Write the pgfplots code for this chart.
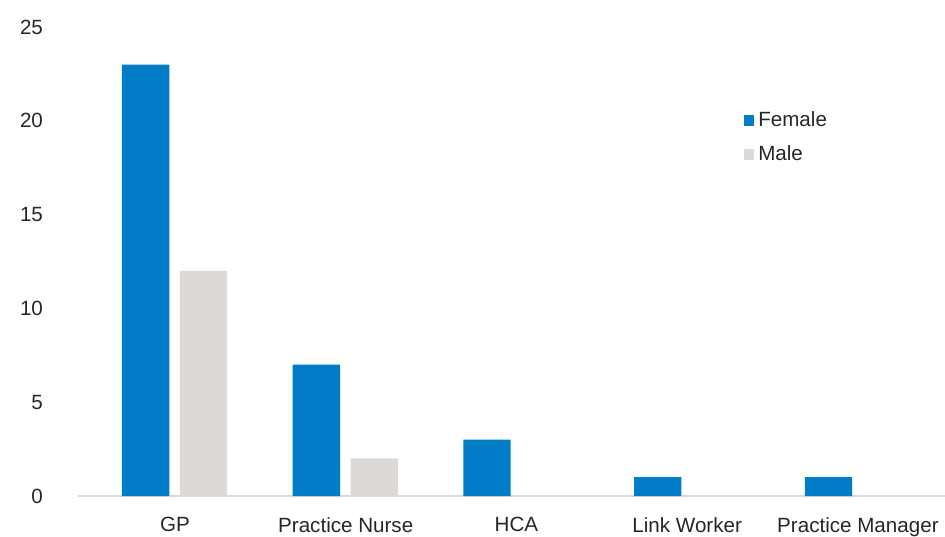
\documentclass[border=0pt]{standalone}
\usepackage{pgfplots}
\pgfplotsset{compat=1.18}
\usepackage{fontspec}
\setmainfont{Liberation Sans}
\definecolor{fem}{HTML}{007DC6}
\definecolor{mal}{HTML}{DDD9D6}
\definecolor{txt}{HTML}{262626}
\begin{document}
\begin{tikzpicture}
\begin{axis}[
  at={(0,0)}, anchor=south west,
  scale only axis,
  width=433.5pt, height=234.5pt,
  xmin=-0.568, xmax=4.51,
  ymin=0, ymax=25,
  ytick={0,5,10,15,20,25},
  xtick={0,1,2,3,4},
  xticklabels={GP,Practice Nurse,HCA,Link Worker,Practice Manager},
  axis x line*=bottom,
  axis y line*=left,
  y axis line style={draw=none},
  x axis line style={draw=mal, line width=1pt, -},
  major tick length=0pt,
  tick style={draw=none},
  /pgf/number format/assume math mode=true,
  ticklabel style={font=\fontsize{10.3}{12}\selectfont, text=txt},
  yticklabel style={anchor=east, xshift=-14pt},
  xticklabel style={anchor=north, yshift=-7pt},
  legend style={at={(0.768,0.828)}, anchor=north west, draw=none, fill=none,
    font=\fontsize{10.3}{12}\selectfont, text=txt, row sep=4pt,
    inner sep=0pt, outer sep=0pt},
  legend cell align=left,
  legend image code/.code={\path[#1, draw=none] (0pt,-2.8pt) rectangle (5.2pt,2.8pt);},
  clip=false,
]
\addplot[ybar, bar width=0.277, bar shift=-0.172, fill=fem, draw=none]
  coordinates {(0,23) (1,7) (2,3) (3,1) (4,1)};
\addplot[ybar, bar width=0.277, bar shift=0.167, fill=mal, draw=none]
  coordinates {(0,12) (1,2) (2,0) (3,0) (4,0)};
\legend{Female,Male}
\end{axis}
\pgfresetboundingbox
\path (-39pt,-20pt) rectangle (433.5pt,248pt);
\end{tikzpicture}
\end{document}
